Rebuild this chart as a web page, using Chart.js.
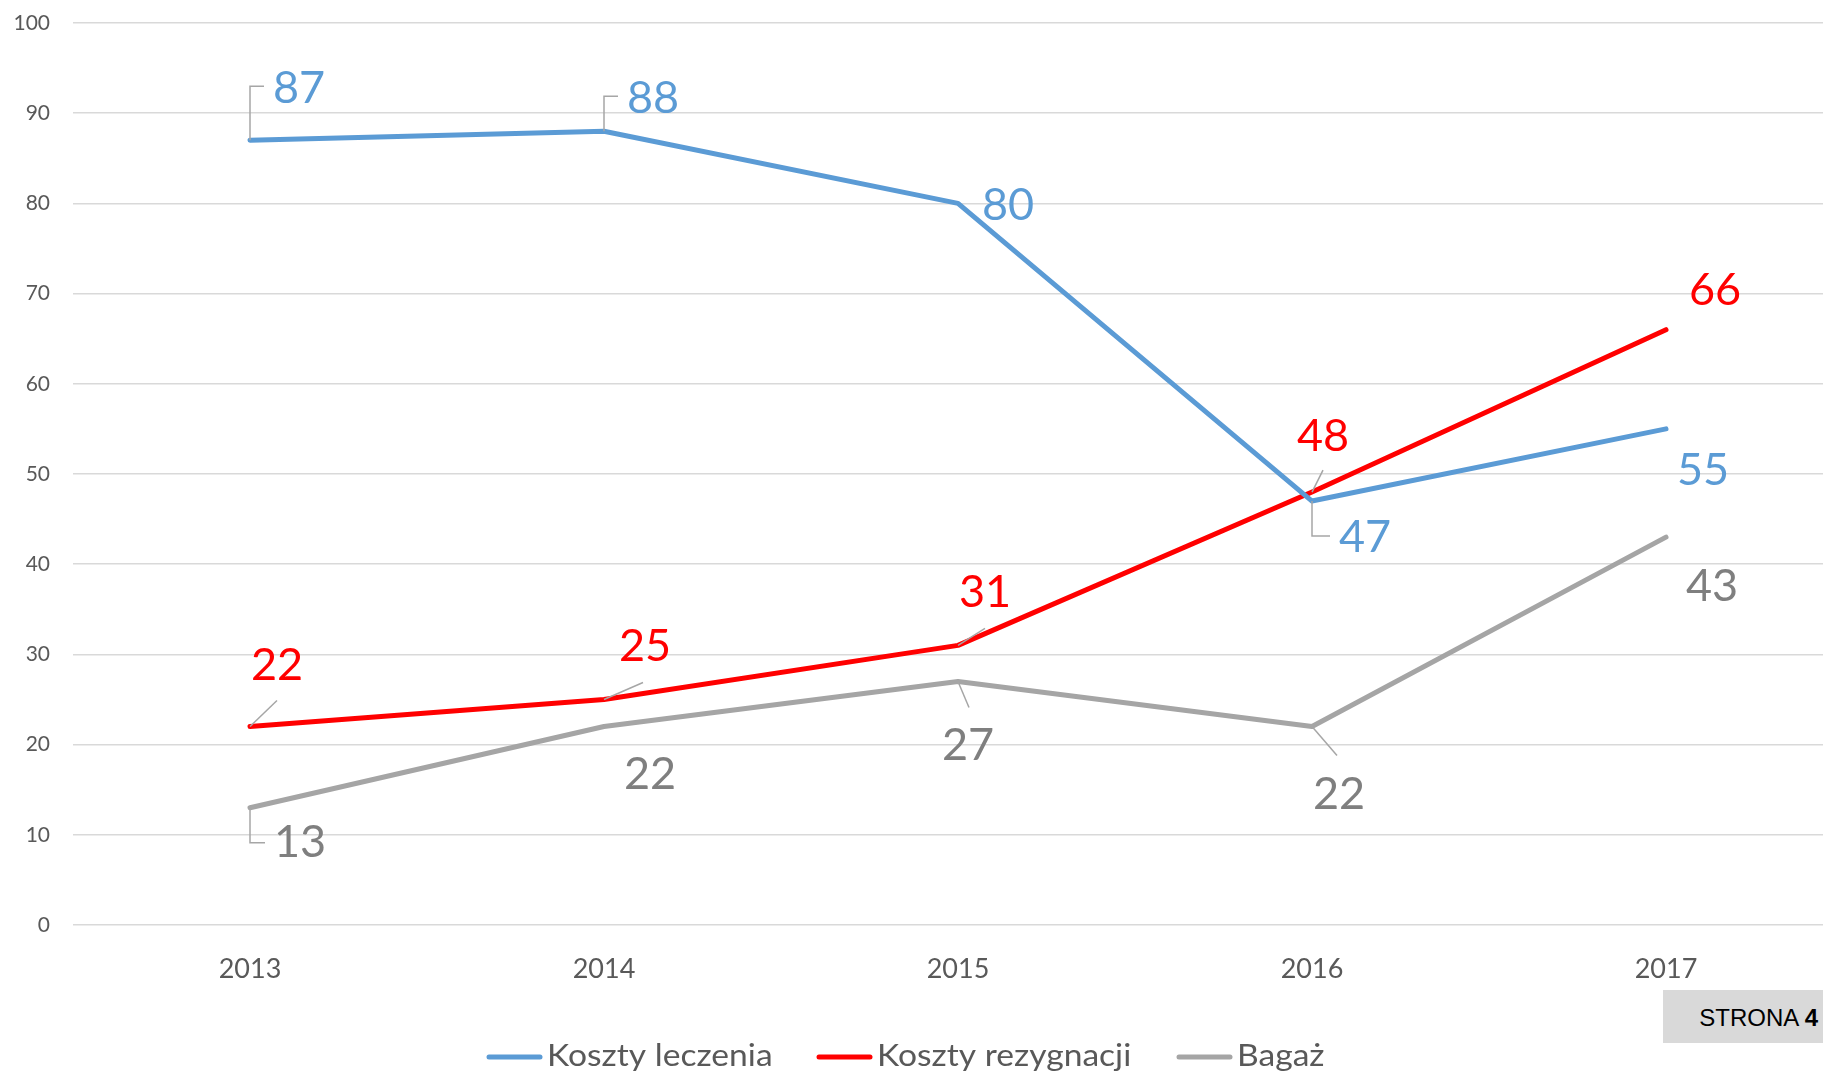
<!DOCTYPE html>
<html>
<head>
<meta charset="utf-8">
<script src="https://cdn.jsdelivr.net/npm/chart.js@4.4.1/dist/chart.umd.min.js"></script>
<style>
  html, body { margin: 0; padding: 0; background: #ffffff; overflow: hidden; width: 1823px; height: 1075px; }
  #wrap { position: absolute; left: 0; top: 0; width: 1850px; height: 1075px; }
  #page { position: absolute; left: 1663px; top: 990px; width: 160px; height: 53px; background: #d9d9d9;
          font-family: "Liberation Sans", Arial, sans-serif; font-size: 24px; color: #000; 
          box-sizing: border-box; text-align: right; padding-right: 5px; line-height: 55px; white-space: nowrap; }
</style>
</head>
<body>
<div id="wrap"><canvas id="c" width="1850" height="1075"></canvas></div>
<div id="page">STRONA <b>4</b></div>
<script>
// ---- data ----
const categories = ["2013", "2014", "2015", "2016", "2017"];
const seriesNames = ["Koszty leczenia", "Koszty rezygnacji", "Bagaż"];
const kosztyLeczenia = [87, 88, 80, 47, 55];
const kosztyRezygnacji = [22, 25, 31, 48, 66];
const bagaz = [13, 22, 27, 22, 43];
const yTicks = [0, 10, 20, 30, 40, 50, 60, 70, 80, 90, 100];

// ---- styling (label placement relative to each point, in px) ----
const lineColors = ["#5B9BD5", "#FF0000", "#A5A5A5"];
const labelColors = ["#5B9BD5", "#FF0000", "#7F7F7F"];
const labelOffsets = [
  [[49, -52], [49, -33], [50, 2], [53, 36], [37, 42]],
  [[27, -61], [41, -53], [27, -53], [11, -56], [49, -39]],
  [[50, 35], [46, 48], [10, 64], [27, 68], [46, 49]]
];
const leaders = [
  [[[0,0],[0,-54],[14,-54]], [[0,0],[0,-35],[14,-35]], null, [[0,0],[0,35],[18,35]], null],
  [[[0,0],[27,-26]], [[0,0],[39,-17]], [[0,0],[27,-17]], [[0,0],[11,-22]], null],
  [[[0,0],[0,35],[15,35]], null, [[0,0],[11,26]], [[0,0],[25,29]], null]
];
const legendX = [487, 817, 1177];

const labelPlugin = {
  id: 'excelLabels',
  afterDatasetsDraw(chart) {
    const ctx = chart.ctx;
    chart.data.datasets.forEach((ds, di) => {
      const meta = chart.getDatasetMeta(di);
      meta.data.forEach((pt, i) => {
        const x = pt.x, y = pt.y;
        const ld = leaders[di][i];
        if (ld) {
          ctx.save();
          ctx.strokeStyle = "#A6A6A6";
          ctx.lineWidth = 1.5;
          ctx.beginPath();
          ld.forEach((p, k) => { if (k === 0) ctx.moveTo(x + p[0], y + p[1]); else ctx.lineTo(x + p[0], y + p[1]); });
          ctx.stroke();
          ctx.restore();
        }
        const off = labelOffsets[di][i];
        ctx.save();
        ctx.font = "45px Lato";
        ctx.fillStyle = labelColors[di];
        ctx.textAlign = "center";
        ctx.textBaseline = "middle";
        ctx.fillText(String(ds.data[i]), x + off[0], y + off[1]);
        ctx.restore();
      });
    });
  },
  afterDraw(chart) {
    const ctx = chart.ctx;
    chart.data.datasets.forEach((ds, di) => {
      const x0 = legendX[di];
      ctx.save();
      ctx.strokeStyle = ds.borderColor;
      ctx.lineWidth = 5;
      ctx.lineCap = "round";
      ctx.beginPath();
      ctx.moveTo(x0 + 2, 1057);
      ctx.lineTo(x0 + 53, 1057);
      ctx.stroke();
      ctx.font = "30px Lato";
      ctx.fillStyle = "#595959";
      ctx.textAlign = "left";
      ctx.textBaseline = "alphabetic";
      ctx.translate(x0 + 60, 1066);
      ctx.scale(1.12, 1);
      ctx.fillText(ds.label, 0, 0);
      ctx.restore();
    });
  }
};

const seriesData = [kosztyLeczenia, kosztyRezygnacji, bagaz];
new Chart(document.getElementById("c"), {
  type: "line",
  data: {
    labels: categories,
    datasets: seriesData.map((d, i) => ({
      label: seriesNames[i],
      data: d,
      borderColor: lineColors[i],
      backgroundColor: lineColors[i],
      borderWidth: 5,
      pointRadius: 0,
      tension: 0,
      borderCapStyle: "round",
      borderJoinStyle: "round",
      fill: false
    }))
  },
  options: {
    responsive: false,
    devicePixelRatio: 1,
    animation: false,
    layout: { padding: { left: 0, top: 23, right: 7, bottom: 0 } },
    plugins: { legend: { display: false }, tooltip: { enabled: false } },
    scales: {
      x: {
        offset: true,
        grid: { display: false },
        border: { display: false },
        ticks: { color: "#595959", font: { family: "Lato", size: 27 }, padding: 20 },
        afterFit: s => { s.height = 150; s.paddingLeft = 0; s.paddingRight = 0; }
      },
      y: {
        min: 0, max: 100,
        afterBuildTicks: s => { s.ticks = yTicks.map(v => ({ value: v })); },
        grid: { color: "#D9D9D9", lineWidth: 1.5, drawTicks: false },
        border: { display: false },
        ticks: { color: "#595959", font: { family: "Lato", size: 21 }, padding: 23 },
        afterFit: s => { s.width = 73; s.paddingTop = 0; s.paddingBottom = 0; }
      }
    }
  },
  plugins: [labelPlugin]
});
</script>
</body>
</html>
